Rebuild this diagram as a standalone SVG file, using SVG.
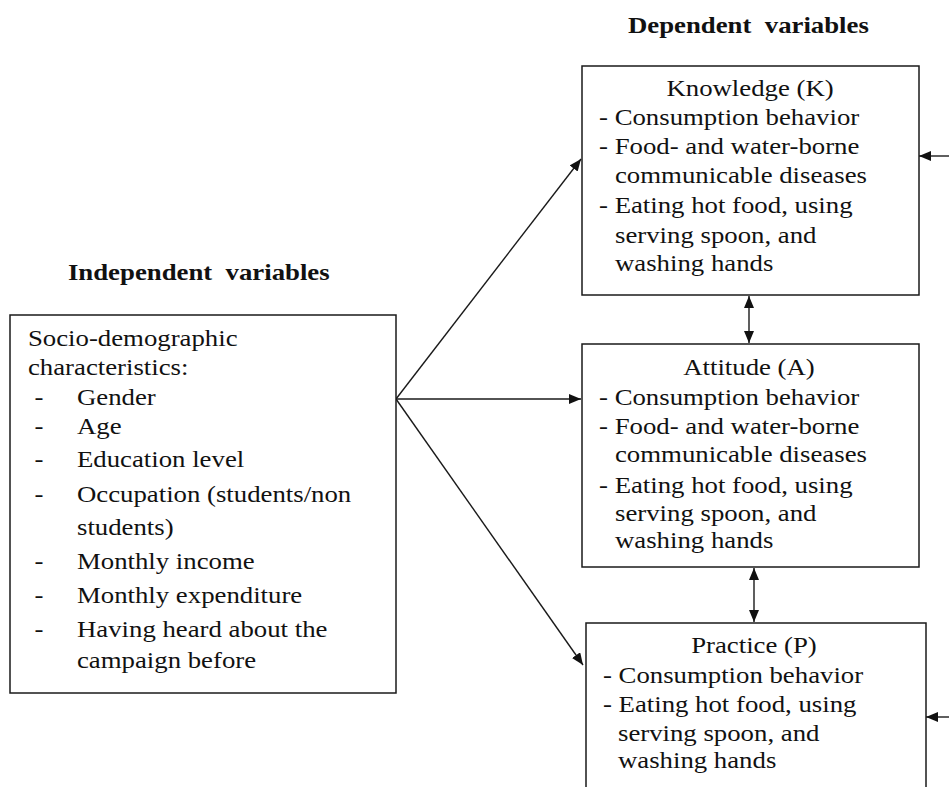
<svg xmlns="http://www.w3.org/2000/svg" width="949" height="787" viewBox="0 0 949 787">
<style>
.box{fill:#fff;stroke:#1a1a1a;stroke-width:1.5}
.t{font-family:"Liberation Serif","Times New Roman",serif;font-size:22.5px;fill:#111}
.b{font-weight:bold}
.c{text-anchor:middle}
.con{stroke:#1a1a1a;stroke-width:1.4;fill:none}
</style>
<defs>
<marker id="ah" markerUnits="userSpaceOnUse" markerWidth="13" markerHeight="11" refX="12" refY="5" orient="auto-start-reverse">
<path d="M0,0 L12,5 L0,10 z" fill="#111"/>
</marker>
</defs>
<rect width="949" height="787" fill="#fff"/>
<g id="titles">
<g transform="scale(1.19,1)">
<text class="t b" x="527.7" y="33" xml:space="preserve">Dependent  variables</text>
<text class="t b" x="57.1" y="280" xml:space="preserve">Independent  variables</text>
</g>
</g>
<g id="connectors">
<line class="con" x1="396" y1="399" x2="581" y2="159" marker-end="url(#ah)"/>
<line class="con" x1="396" y1="399" x2="581" y2="399" marker-end="url(#ah)"/>
<line class="con" x1="396" y1="399" x2="583" y2="665" marker-end="url(#ah)"/>
<line class="con" x1="749" y1="296" x2="749" y2="343" marker-start="url(#ah)" marker-end="url(#ah)"/>
<line class="con" x1="754" y1="568" x2="754" y2="622" marker-start="url(#ah)" marker-end="url(#ah)"/>
<line class="con" x1="949" y1="156" x2="919" y2="156" marker-end="url(#ah)"/>
<line class="con" x1="949" y1="717" x2="926" y2="717" marker-end="url(#ah)"/>
</g>
<g id="independent">
<rect class="box" x="10" y="315" width="386" height="378"/>
<g transform="scale(1.19,1)">
<text class="t" x="23.5" y="346">Socio-demographic</text>
<text class="t" x="23.5" y="375">characteristics:</text>
<text class="t" x="29" y="405">-</text><text class="t" x="64.7" y="405">Gender</text>
<text class="t" x="29" y="434">-</text><text class="t" x="64.7" y="434">Age</text>
<text class="t" x="29" y="467">-</text><text class="t" x="64.7" y="467">Education level</text>
<text class="t" x="29" y="502">-</text><text class="t" x="64.7" y="502">Occupation (students/non</text>
<text class="t" x="64.7" y="535">students)</text>
<text class="t" x="29" y="569">-</text><text class="t" x="64.7" y="569">Monthly income</text>
<text class="t" x="29" y="603">-</text><text class="t" x="64.7" y="603">Monthly expenditure</text>
<text class="t" x="29" y="637">-</text><text class="t" x="64.7" y="637">Having heard about the</text>
<text class="t" x="64.7" y="668">campaign before</text>
</g>
</g>
<g id="knowledge">
<rect class="box" x="582" y="66" width="337" height="229"/>
<g transform="scale(1.19,1)">
<text class="t c" x="630.3" y="96">Knowledge (K)</text>
<text class="t" x="503.4" y="125">- Consumption behavior</text>
<text class="t" x="503.4" y="154">- Food- and water-borne</text>
<text class="t" x="516.8" y="183">communicable diseases</text>
<text class="t" x="503.4" y="213">- Eating hot food, using</text>
<text class="t" x="516.8" y="243">serving spoon, and</text>
<text class="t" x="516.8" y="271">washing hands</text>
</g>
</g>
<g id="attitude">
<rect class="box" x="582" y="344" width="337" height="223"/>
<g transform="scale(1.19,1)">
<text class="t c" x="629.4" y="375">Attitude (A)</text>
<text class="t" x="503.4" y="405">- Consumption behavior</text>
<text class="t" x="503.4" y="434">- Food- and water-borne</text>
<text class="t" x="516.8" y="462">communicable diseases</text>
<text class="t" x="503.4" y="493">- Eating hot food, using</text>
<text class="t" x="516.8" y="521">serving spoon, and</text>
<text class="t" x="516.8" y="548">washing hands</text>
</g>
</g>
<g id="practice">
<rect class="box" x="586" y="623" width="340" height="200"/>
<g transform="scale(1.19,1)">
<text class="t c" x="633.6" y="653">Practice (P)</text>
<text class="t" x="506.7" y="683">- Consumption behavior</text>
<text class="t" x="506.7" y="712">- Eating hot food, using</text>
<text class="t" x="519.3" y="741">serving spoon, and</text>
<text class="t" x="519.3" y="768">washing hands</text>
</g>
</g>
</svg>
